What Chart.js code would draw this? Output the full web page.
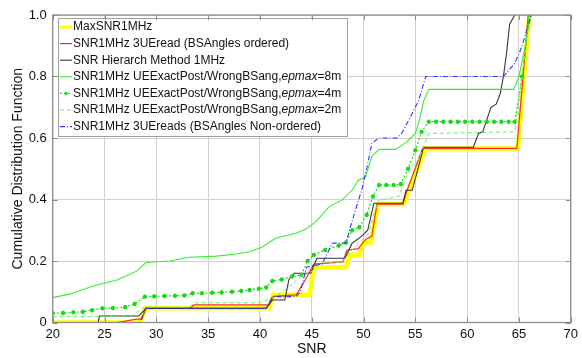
<!DOCTYPE html>
<html>
<head>
<meta charset="utf-8">
<script src="https://cdn.jsdelivr.net/npm/chart.js@4.4.1/dist/chart.umd.min.js"></script>
<style>
  html, body { margin: 0; padding: 0; background: #fff; }
  canvas { display: block; }
</style>
</head>
<body>
<canvas id="cdfChart" width="582" height="358"></canvas>
<script>
// Axis ticks
const xTicks = [20, 25, 30, 35, 40, 45, 50, 55, 60, 65, 70];
const yTicks = [0, 0.2, 0.4, 0.6, 0.8, 1];

// MaxSNR1MHz
const snrMax = [20, 28.4, 29, 40.9, 41.3, 44.8, 45.2, 48.3, 48.7, 49.6, 50.0, 50.7, 51.4, 53.9, 54.4, 56.0, 64.9, 66.0];
const cdfMax = [0, 0, 0.046, 0.046, 0.09, 0.09, 0.18, 0.18, 0.22, 0.22, 0.26, 0.26, 0.385, 0.385, 0.43, 0.566, 0.566, 1];

// SNR1MHz 3UEread (BSAngles ordered)
const snrOrd = [20, 26.2, 28.1, 28.6, 29, 33.3, 33.6, 40.8, 41.3, 43.5, 44.4, 45.2, 48.0, 48.4, 49.5, 50.2, 50.8, 51.3, 53.8, 54.2, 55.7, 64.8, 65.9];
const cdfOrd = [0, 0, 0.011, 0.011, 0.046, 0.046, 0.057, 0.057, 0.085, 0.09, 0.14, 0.19, 0.197, 0.235, 0.24, 0.27, 0.28, 0.385, 0.385, 0.43, 0.566, 0.566, 1];

// SNR Hierarch Method 1MHz
const snrHier = [20, 24.4, 24.5, 28.3, 29, 40.6, 41.2, 42.4, 42.8, 43.3, 44.9, 45.5, 48.2, 48.9, 49.8, 50.4, 51.0, 53.8, 54.1, 54.7, 55.8, 60.6, 61.1, 61.5, 62.3, 62.8, 63.2, 63.5, 63.8, 64.1, 64.6];
const cdfHier = [0, 0, 0.021, 0.021, 0.046, 0.046, 0.073, 0.073, 0.14, 0.16, 0.16, 0.209, 0.209, 0.258, 0.28, 0.3, 0.388, 0.388, 0.43, 0.43, 0.57, 0.57, 0.615, 0.62, 0.70, 0.71, 0.745, 0.8, 0.875, 0.97, 1];

// UEExactPost/WrongBSang, epmax = 8m
const snrEp8 = [20, 21.7, 23.9, 26.2, 28.1, 29, 31.3, 33.2, 35.8, 37.5, 39, 40.2, 41.5, 43.5, 44.5, 45.4, 46.7, 47.9, 48.9, 49.5, 50.2, 50.8, 51.5, 53.1, 54.2, 55.0, 55.4, 55.8, 56.3, 64.5, 65.0, 65.6, 66.1];
const cdfEp8 = [0.081, 0.093, 0.119, 0.138, 0.167, 0.195, 0.2, 0.212, 0.216, 0.222, 0.23, 0.245, 0.274, 0.29, 0.305, 0.328, 0.377, 0.398, 0.43, 0.463, 0.474, 0.54, 0.563, 0.563, 0.588, 0.615, 0.66, 0.72, 0.758, 0.758, 0.8, 0.9, 1];

// UEExactPost/WrongBSang, epmax = 4m (marked)
const snrEp4 = [20, 21, 22, 22.9, 23.8, 24.8, 25.8, 27, 27.9, 28.9, 29.8, 30.8, 31.8, 32.7, 33.5, 34.4, 35.4, 36.3, 37.3, 38.2, 39, 39.9, 40.6, 41.2, 42.1, 43.1, 44.0, 44.6, 45.2, 46.3, 47.6, 48.3, 48.9, 49.6, 50.3, 50.9, 51.5, 52.2, 52.9, 53.6, 54.3, 55.0, 55.6, 56.3, 57.0, 57.7, 58.4, 59.1, 59.8, 60.5, 61.2, 61.9, 62.6, 63.3, 64.0, 64.6, 65.3, 66.0];
const cdfEp4 = [0.03, 0.031, 0.033, 0.035, 0.04, 0.046, 0.047, 0.05, 0.06, 0.084, 0.085, 0.086, 0.087, 0.088, 0.095, 0.095, 0.097, 0.098, 0.1, 0.103, 0.106, 0.11, 0.114, 0.135, 0.14, 0.15, 0.155, 0.2, 0.22, 0.236, 0.25, 0.26, 0.3, 0.31, 0.35, 0.41, 0.447, 0.447, 0.447, 0.45, 0.5, 0.56, 0.62, 0.653, 0.653, 0.653, 0.653, 0.653, 0.653, 0.653, 0.653, 0.653, 0.653, 0.653, 0.653, 0.653, 0.8, 1];

// UEExactPost/WrongBSang, epmax = 2m
const snrEp2 = [20, 27.5, 28.8, 33.2, 33.6, 40.0, 41.5, 42.8, 44.1, 44.8, 45.8, 47.9, 49.2, 50.5, 51.0, 51.5, 53.4, 54.4, 55.3, 56.3, 64.6, 65.3, 66.0];
const cdfEp2 = [0.019, 0.019, 0.05, 0.05, 0.064, 0.064, 0.084, 0.116, 0.155, 0.16, 0.193, 0.197, 0.247, 0.29, 0.355, 0.398, 0.41, 0.496, 0.53, 0.615, 0.62, 0.8, 1];

// SNR1MHz 3UEreads (BSAngles Non-ordered)
const snrNon = [20, 28.4, 29, 40.6, 41.2, 43.5, 43.9, 44.5, 46.0, 47.0, 48.3, 48.9, 49.9, 50.3, 50.8, 51.5, 53.2, 53.7, 54.7, 55.3, 56.0, 63.5, 64.6, 65.2, 66.2];
const cdfNon = [0, 0, 0.046, 0.046, 0.084, 0.084, 0.1, 0.18, 0.19, 0.258, 0.258, 0.33, 0.44, 0.5, 0.583, 0.6, 0.6, 0.616, 0.68, 0.72, 0.8, 0.8, 0.843, 0.89, 1];

const labels = [
  "MaxSNR1MHz",
  "SNR1MHz 3UEread (BSAngles ordered)",
  "SNR Hierarch Method 1MHz",
  "SNR1MHz UEExactPost/WrongBSang,epmax=8m",
  "SNR1MHz UEExactPost/WrongBSang,epmax=4m",
  "SNR1MHz UEExactPost/WrongBSang,epmax=2m",
  "SNR1MHz 3UEreads (BSAngles Non-ordered)"
];

function pts(xs, ys) {
  return xs.map((x, i) => ({ x: x, y: ys[i] }));
}

const FONT = "'Liberation Sans', Arial, sans-serif";

const datasets = [
  { data: pts(snrMax, cdfMax), borderColor: "#ffff00", borderWidth: 4.5 },
  { data: pts(snrOrd, cdfOrd), borderColor: "#ff2a2a", borderWidth: 1.2 },
  { data: pts(snrHier, cdfHier), borderColor: "#333333", borderWidth: 1.1 },
  { data: pts(snrEp8, cdfEp8), borderColor: "#33ee33", borderWidth: 1.1 },
  { data: pts(snrEp4, cdfEp4), borderColor: "#11dd11", borderWidth: 1.2, borderDash: [2, 2],
    pointRadius: 2.2, pointStyle: "star", pointBorderWidth: 1.3, pointBorderColor: "#11dd11" },
  { data: pts(snrEp2, cdfEp2), borderColor: "#66ee66", borderWidth: 1, borderDash: [4, 3] },
  { data: pts(snrNon, cdfNon), borderColor: "#3333ff", borderWidth: 1.1, borderDash: [5, 2, 1, 2] }
].map((d, i) => Object.assign({
  label: labels[i],
  fill: false,
  tension: 0,
  pointRadius: 0,
  order: 7 - i
}, d));

// Matlab style box, inner tick marks
const boxPlugin = {
  id: "box",
  afterDraw(chart) {
    const { ctx, chartArea: a, scales } = chart;
    ctx.save();
    ctx.strokeStyle = "#8c8c8c";
    ctx.lineWidth = 1;
    ctx.beginPath();
    xTicks.forEach(v => {
      const px = Math.round(scales.x.getPixelForValue(v)) + 0.5;
      ctx.moveTo(px, a.bottom); ctx.lineTo(px, a.bottom - 5);
      ctx.moveTo(px, a.top); ctx.lineTo(px, a.top + 5);
    });
    yTicks.forEach(v => {
      const py = Math.round(scales.y.getPixelForValue(v)) + 0.5;
      ctx.moveTo(a.left, py); ctx.lineTo(a.left + 5, py);
      ctx.moveTo(a.right, py); ctx.lineTo(a.right - 5, py);
    });
    ctx.stroke();
    ctx.lineWidth = 1.3;
    ctx.strokeRect(a.left, a.top, a.right - a.left, a.bottom - a.top);
    ctx.restore();
  }
};

// Legend drawn inside the plot, top-left
const legendPlugin = {
  id: "inLegend",
  afterDatasetsDraw(chart) {
    const ctx = chart.ctx;
    const bx = 58, by = 18, bw = 289, bh = 118;
    ctx.save();
    ctx.fillStyle = "#fff";
    ctx.fillRect(bx, by, bw, bh);
    ctx.strokeStyle = "#a0a0a0";
    ctx.lineWidth = 1;
    ctx.strokeRect(bx + 0.5, by + 0.5, bw, bh);
    chart.data.datasets.forEach((ds, i) => {
      const y = 27 + i * 16.6;
      ctx.strokeStyle = ds.borderColor;
      ctx.lineWidth = Math.min(ds.borderWidth, 3);
      ctx.setLineDash(ds.borderDash || []);
      ctx.beginPath();
      ctx.moveTo(bx + 2, y); ctx.lineTo(bx + 14, y);
      ctx.stroke();
      ctx.setLineDash([]);
      if (ds.pointRadius) {
        ctx.beginPath();
        ctx.arc(bx + 8, y, 1.6, 0, Math.PI * 2);
        ctx.fillStyle = ds.borderColor;
        ctx.fill();
      }
      ctx.fillStyle = "#111";
      ctx.textBaseline = "middle";
      let x = bx + 15;
      const parts = ds.label.split("epmax");
      parts.forEach((p, k) => {
        ctx.font = "12px " + FONT;
        ctx.fillText(p, x, y);
        x += ctx.measureText(p).width;
        if (k < parts.length - 1) {
          ctx.font = "italic 12px " + FONT;
          ctx.fillText("epmax", x, y);
          x += ctx.measureText("epmax").width;
        }
      });
    });
    ctx.restore();
  }
};

new Chart(document.getElementById("cdfChart"), {
  type: "line",
  data: { datasets: datasets },
  options: {
    responsive: false,
    animation: false,
    devicePixelRatio: 1,
    layout: { padding: { top: 15, right: 9, left: 0, bottom: 0 } },
    plugins: { legend: { display: false }, tooltip: { enabled: false } },
    scales: {
      x: {
        type: "linear",
        min: 20, max: 70,
        afterFit: s => { s.height = 35.5; },
        afterBuildTicks: s => { s.ticks = xTicks.map(v => ({ value: v })); },
        border: { display: false },
        grid: { color: "#d0d0d0", borderDash: [1, 2], drawTicks: false, lineWidth: 1 },
        ticks: { color: "#111", font: { family: FONT, size: 13 }, padding: 4, maxRotation: 0 },
        title: { display: true, text: "SNR", color: "#111", font: { family: FONT, size: 14 }, padding: { top: 0, bottom: 0 } }
      },
      y: {
        type: "linear",
        min: 0, max: 1,
        afterFit: s => { s.width = 52.7; },
        afterBuildTicks: s => { s.ticks = yTicks.map(v => ({ value: v })); },
        border: { display: false },
        grid: { color: "#d0d0d0", borderDash: [1, 2], drawTicks: false, lineWidth: 1 },
        ticks: { color: "#111", font: { family: FONT, size: 13 }, padding: 6 },
        title: { display: true, text: "Cumulative Distribution Function", color: "#111", font: { family: FONT, size: 14 }, padding: { top: 10, bottom: 0 } }
      }
    }
  },
  plugins: [boxPlugin, legendPlugin]
});
</script>
</body>
</html>
